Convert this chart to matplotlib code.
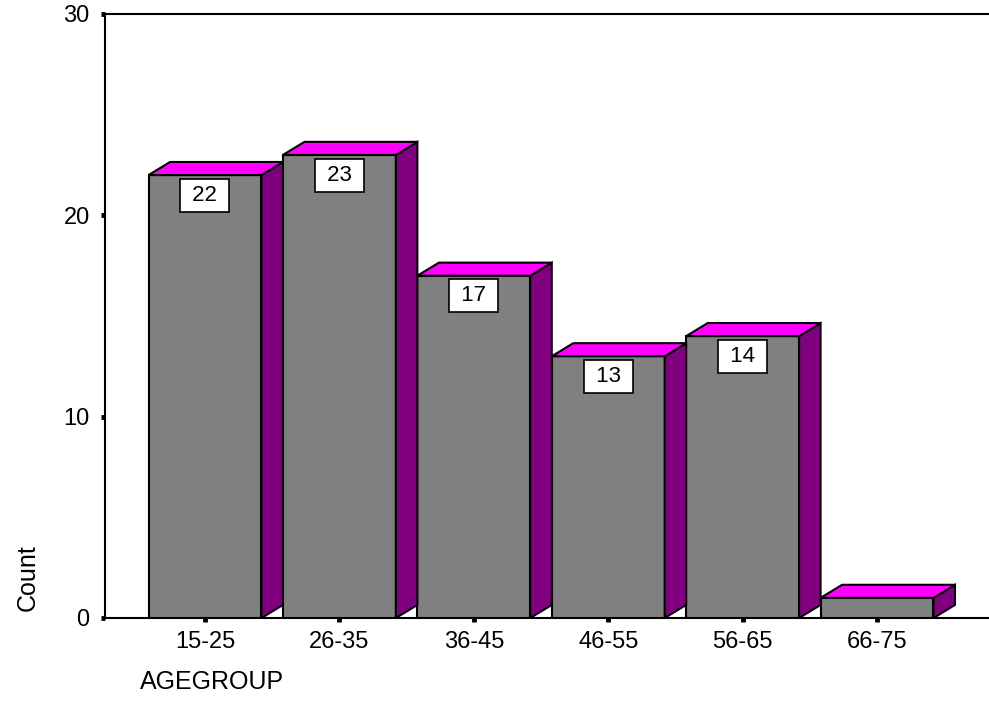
from matplotlib import pyplot as plt
from matplotlib.patches import Polygon

groups = ["15-25", "26-35", "36-45", "46-55", "56-65", "66-75"]
counts = [22, 23, 17, 13, 14, 1]

plt.rcParams['font.family'] = ['Liberation Sans', 'DejaVu Sans']

fig = plt.figure(figsize=(9.89, 7.25), dpi=100)
ax = fig.add_axes([105 / 989, 107 / 725, 884 / 989, 604 / 725])

width = 0.84
dx, dy = 0.16, 0.65  # depth of the 3d effect in data units

x = list(range(len(groups)))
bars = ax.bar(x, counts, width, color="#808080", edgecolor="black", linewidth=1.5, zorder=3)

for rect, v in zip(bars, counts):
    x0 = rect.get_x()
    x1 = x0 + rect.get_width()
    top = Polygon([(x0, v), (x0 + dx, v + dy), (x1 + dx, v + dy), (x1, v)],
                  closed=True, facecolor="#ff00ff", edgecolor="black", linewidth=1.5, zorder=3)
    side = Polygon([(x1, 0), (x1 + dx, dy), (x1 + dx, v + dy), (x1, v)],
                   closed=True, facecolor="#800080", edgecolor="black", linewidth=1.5, zorder=3)
    ax.add_patch(side)
    ax.add_patch(top)
    if v >= 2:
        ax.annotate(" {} ".format(v), xy=(x0 + rect.get_width() / 2, v), xytext=(0, -14.5),
                    textcoords="offset points", ha="center", va="center", fontsize=16, zorder=4,
                    bbox=dict(boxstyle="square,pad=0.27", facecolor="white", edgecolor="black", linewidth=1.2))

ax.set_xlim(-0.744, 5.833)
ax.set_ylim(0, 30)
ax.set_xticks(x)
ax.set_xticklabels(groups)
ax.set_yticks([0, 10, 20, 30])

for side_name in ["left", "bottom", "top"]:
    ax.spines[side_name].set_linewidth(1.5)
ax.spines["right"].set_visible(False)

ax.tick_params(axis="both", direction="out", length=3, width=3.5, labelsize=17)
ax.tick_params(axis="y", pad=8)
ax.tick_params(axis="x", pad=6)

fig.text(28 / 989, 1 - 578 / 725, "Count", rotation=90, ha="center", va="center", fontsize=18)
fig.text(140 / 989, 1 - 682 / 725, "AGEGROUP", ha="left", va="center", fontsize=18)

plt.savefig("out.png", dpi=100)
